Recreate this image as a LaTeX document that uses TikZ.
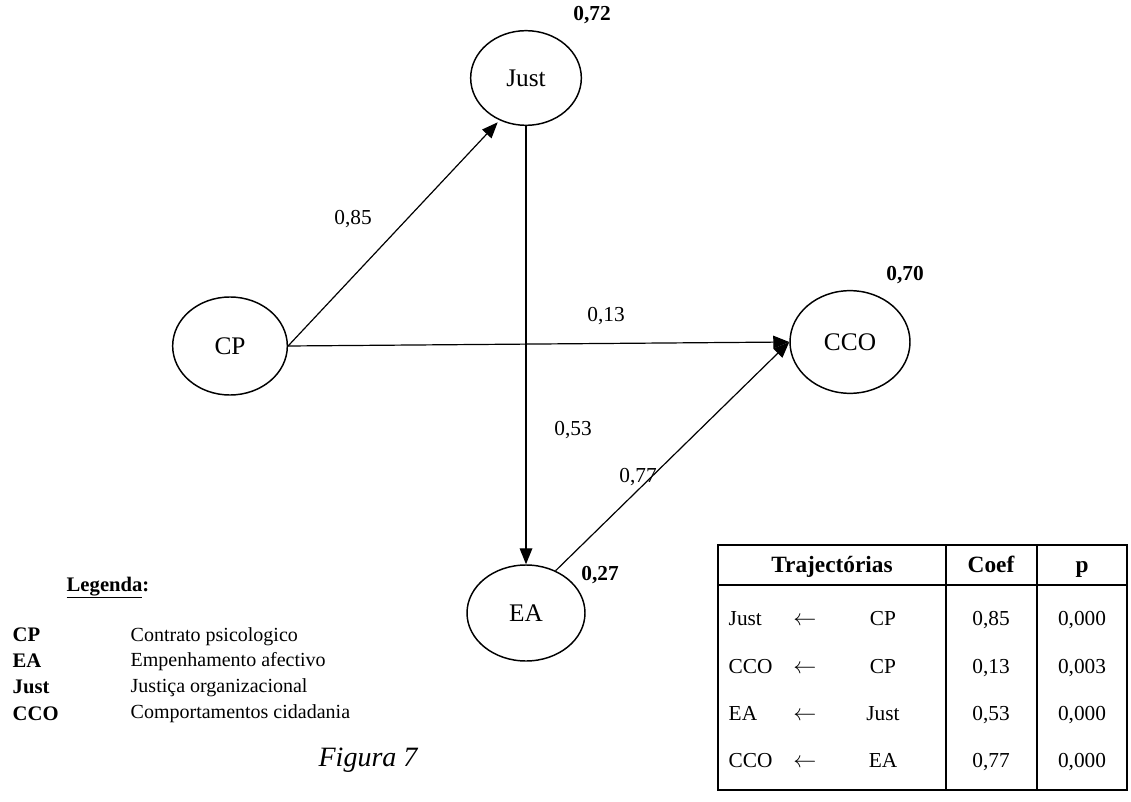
\documentclass[tikz,border=0pt]{standalone}
\usepackage{fontspec}
\setmainfont{Liberation Serif}
\usetikzlibrary{shapes.geometric,arrows.meta}
\begin{document}
\begin{tikzpicture}[x=0.75pt,y=-0.75pt,
 lat/.style={draw, ellipse, line width=1.1pt, inner sep=0pt, font=\fontsize{19}{22}\selectfont},
 arr/.style={line width=0.9pt, -{Triangle[length=12pt,width=9.5pt]}},
 coef/.style={font=\fontsize{16}{18}\selectfont},
 rsq/.style={font=\fontsize{16}{18}\selectfont\bfseries},
 leg/.style={font=\fontsize{15}{18}\selectfont, anchor=base west},
 legb/.style={font=\fontsize{15.5}{18}\selectfont\bfseries, anchor=base west},
 cell/.style={font=\fontsize{16}{18}\selectfont, anchor=base},
 cellw/.style={font=\fontsize{16}{18}\selectfont, anchor=base west},
 head/.style={font=\fontsize{17.5}{20}\selectfont\bfseries, anchor=base},
 tline/.style={line width=0.8pt}
]
\useasboundingbox (0,0) rectangle (1131,802);
% latent variables
\node[lat, minimum width=83pt, minimum height=71pt] (Just) at (526,78) {Just};
\node[lat, minimum width=86pt, minimum height=73.5pt] (CP) at (230,346) {CP};
\node[lat, minimum width=90pt, minimum height=77pt] (CCO) at (850,342) {CCO};
\node[lat, minimum width=88.5pt, minimum height=72pt] (EA) at (526,613) {EA};
% paths
\draw[arr, shorten >=2pt] (CP.east) -- (Just.-122);
\draw[arr] (Just.south) -- (EA.north);
\draw[arr] (CP.east) -- (CCO.west);
\draw[arr] (EA.55) -- (CCO.west);
% coefficients
\node[coef] (c85) at (353,219) {0,85};
\node[coef] (c13) at (606,316) {0,13};
\node[coef] (c53) at (573,430) {0,53};
\node[coef] (c77) at (638,477) {0,77};
% R squared
\node[rsq] (r72) at (592,15) {0,72};
\node[rsq] (r70) at (905,275) {0,70};
\node[rsq] (r27) at (600,575) {0,27};
% legend
\node[legb] (legt) at (62,591) {\underline{Legenda}:};
\node[legb] (l1a) at (8,641) {CP};
\node[leg]  (l1b) at (126,641) {Contrato psicologico};
\node[legb] (l2a) at (8,667) {EA};
\node[leg]  (l2b) at (126,666) {Empenhamento afectivo};
\node[legb] (l3a) at (8,693) {Just};
\node[leg]  (l3b) at (126,692) {Justiça organizacional};
\node[legb] (l4a) at (8,720) {CCO};
\node[leg]  (l4b) at (126,718) {Comportamentos cidadania};
% caption
\node[font=\fontsize{21}{24}\selectfont\itshape] (fig) at (368,760) {Figura 7};
% table
\draw[tline] (718,545) rectangle (1127,790);
\draw[tline] (718,585) -- (1127,585);
\draw[tline] (946,545) -- (946,790);
\draw[tline] (1037,545) -- (1037,790);
\node[head] (h1) at (832,572) {Trajectórias};
\node[head] (h2) at (991,572) {Coef};
\node[head] (h3) at (1082,572) {p};
% row 1
\node[cellw] (ra1) at (724,625) {Just};
\node[cell]  (rr1) at (805,625) {$\leftarrow$};
\node[cell]  (rb1) at (883,625) {CP};
\node[cell]  (rc1) at (991,625) {0,85};
\node[cell]  (rp1) at (1082,625) {0,000};
% row 2
\node[cellw] (ra2) at (724,673) {CCO};
\node[cell]  (rr2) at (805,673) {$\leftarrow$};
\node[cell]  (rb2) at (883,673) {CP};
\node[cell]  (rc2) at (991,673) {0,13};
\node[cell]  (rp2) at (1082,673) {0,003};
% row 3
\node[cellw] (ra3) at (724,720) {EA};
\node[cell]  (rr3) at (805,720) {$\leftarrow$};
\node[cell]  (rb3) at (883,720) {Just};
\node[cell]  (rc3) at (991,720) {0,53};
\node[cell]  (rp3) at (1082,720) {0,000};
% row 4
\node[cellw] (ra4) at (724,767) {CCO};
\node[cell]  (rr4) at (805,767) {$\leftarrow$};
\node[cell]  (rb4) at (883,767) {EA};
\node[cell]  (rc4) at (991,767) {0,77};
\node[cell]  (rp4) at (1082,767) {0,000};
\end{tikzpicture}
\end{document}
